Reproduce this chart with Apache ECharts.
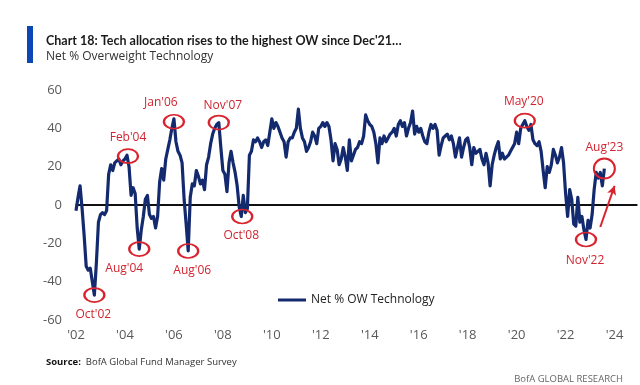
<!DOCTYPE html>
<html><head><meta charset="utf-8">
<script src="https://cdn.jsdelivr.net/npm/echarts@6/dist/echarts.min.js"></script>
<style>html,body{margin:0;padding:0;background:#fff}#c{width:640px;height:385px}</style>
</head><body><div id="c"></div>
<script>
// Monthly categories Jan 2002 - Dec 2024
const startYear = 2002, endYear = 2024;
const categories = [];
for (let y = startYear; y <= endYear; y++) for (let m = 1; m <= 12; m++) categories.push(y + '-' + String(m).padStart(2, '0'));

// Net % overweight technology, Jan 2002 - Aug 2023
const netOW = [
 -3, 4, 10, -2, -16, -32, -34, -33, -40, -47, -30, -9,
 -5, -4, -5, -3, 16, 21, 18, 22, 23, 24, 21, 23,
 24, 26, 20, 5, 9, 6, -12, -23, -13, -6, 3, 5,
 -5, -7, -6, -12, -6, 12, 19, 13, 24, 29, 34, 40,
 45, 33, 28, 26, 22, 3, -10, -24, 4, 11, 10, 18,
 15, 11, 13, 8, 21, 25, 32, 37, 40, 42, 43, 30,
 18, 16, 7, 22, 28, 22, 17, 10, -1, -6, 5, -4,
 -2, 26, 28, 34, 33, 35, 33, 30, 33, 34, 31, 38,
 45, 40, 43, 41, 38, 35, 33, 25, 33, 35, 35, 38,
 40, 50, 40, 35, 33, 28, 30, 33, 38, 36, 32, 40,
 41, 43, 41, 43, 41, 34, 23, 32, 29, 21, 24, 30,
 25, 18, 34, 23, 26, 29, 30, 33, 32, 36, 47, 44,
 42, 41, 38, 32, 22, 35, 32, 36, 33, 35, 37, 38,
 40, 36, 42, 44, 41, 43, 36, 40, 43, 49, 37, 41,
 38, 40, 36, 33, 32, 38, 42, 40, 42, 39, 26, 31,
 35, 36, 37, 34, 36, 32, 25, 30, 35, 25, 30, 34,
 35, 30, 21, 30, 27, 28, 29, 24, 21, 27, 22, 10,
 21, 26, 30, 33, 24, 27, 24, 25, 26, 28, 30, 32,
 38, 32, 40, 42, 44, 41, 39, 42, 34, 32, 31, 33,
 28, 18, 9, 20, 17, 21, 29, 26, 22, 25, 30, 22,
 6, -6, 8, 3, -10, -11, 4, -9, -6, -13, -18, -8,
 -12, -5, 8, 17, 14, 17, 10, 19
];

const yTicks = [-60, -40, -20, 0, 20, 40, 60];

// Annotated turning points: [label, category index]
const notes = [
  ["Oct'02", 9], ["Feb'04", 25], ["Aug'04", 31], ["Jan'06", 48], ["Aug'06", 55],
  ["Nov'07", 70], ["Oct'08", 81], ["May'20", 220], ["Nov'22", 250], ["Aug'23", 259]
];
// Arrow annotation: from / to [category index, value]
const arrowFrom = [257, -11.5], arrowTo = [264, 10];

const noteLabelOffset = {
  "Oct'02": [-1, 19], "Feb'04": [0, -19], "Aug'04": [-15, 19], "Jan'06": [-13, -19],
  "Aug'06": [4, 20], "Nov'07": [4, -17], "Oct'08": [-1, 19], "May'20": [-1, -19],
  "Nov'22": [-1, 21], "Aug'23": [0, -21]
};
const noteSize = { "Aug'23": [21, 20] };
const noteShift = { "Jan'06": [0, 3], "Feb'04": [1, 1], "Oct'08": [1, 0] };

const RED = '#d9232e';

const chart = echarts.init(document.getElementById('c'), null, { renderer: 'canvas' });
chart.setOption({
  animation: false,
  textStyle: { fontFamily: 'Open Sans, Noto Sans, sans-serif' },
  title: [
    { text: "Chart 18: Tech allocation rises to the highest OW since Dec'21…", left: 41, top: 29,
      textStyle: { fontSize: 12.5, fontWeight: 'bold', color: '#1a1a1a', fontFamily: 'Lato, sans-serif' } },
    { text: 'Net % Overweight Technology', left: 41, top: 46,
      textStyle: { fontSize: 12, fontWeight: 'normal', color: '#333', fontFamily: 'Open Sans, sans-serif' } },
    { text: '{b|Source:}  BofA Global Fund Manager Survey', left: 41, top: 352,
      textStyle: { fontSize: 9.5, fontWeight: 'normal', color: '#333',
        rich: { b: { fontWeight: 'bold', fontSize: 9.5, color: '#111' } } } },
    { text: 'BofA GLOBAL RESEARCH', right: 12, top: 369,
      textStyle: { fontSize: 9.5, fontWeight: 'normal', color: '#666' } }
  ],
  graphic: [
    { type: 'rect', left: 27, top: 26, shape: { width: 6, height: 37 }, style: { fill: '#0d47b5' } }
  ],
  legend: {
    data: ['Net % OW Technology'], left: 273, top: 289, itemWidth: 28, itemHeight: 3, icon: 'rect',
    textStyle: { fontSize: 12, color: '#222' }, itemGap: 5
  },
  grid: { left: 76, right: 3, top: 90, bottom: 65 },
  xAxis: [
    { // axis line crossing at zero
      type: 'category', data: categories, boundaryGap: false, position: 'bottom',
      axisLine: { show: true, onZero: true, lineStyle: { color: '#000', width: 1.5 } },
      axisTick: { show: false }, splitLine: { show: false }, axisLabel: { show: false }
    },
    { // year labels at the bottom
      type: 'category', data: categories, boundaryGap: false, position: 'bottom',
      axisLine: { show: false, onZero: false }, axisTick: { show: false }, splitLine: { show: false },
      axisLabel: {
        interval: (i) => i % 24 === 0, margin: 9, color: '#595959', fontSize: 13,
        formatter: (v) => "'" + v.slice(2, 4)
      }
    }
  ],
  yAxis: {
    type: 'value', min: -60, max: 60, interval: 20,
    axisLine: { show: false }, axisTick: { show: false }, splitLine: { show: false },
    axisLabel: { color: '#595959', fontSize: 13, margin: 14 }
  },
  series: [
    {
      name: 'Net % OW Technology', type: 'line', data: netOW, symbol: 'none', z: 3, xAxisIndex: 0,
      lineStyle: { color: '#142a6e', width: 3.2, join: 'round' }, itemStyle: { color: '#142a6e' },
      markLine: {
        silent: true, symbol: ['none', 'none'], label: { show: false }, z: 1,
        lineStyle: { color: '#000', width: 1.5, type: 'solid' },
        data: [{ yAxis: 0 }]
      },
      markPoint: {
        silent: true,
        data: notes.map(([lab, i]) => ({
          coord: [i, netOW[i]], name: lab,
          symbol: 'circle', symbolSize: noteSize[lab] || [20, 14], symbolOffset: noteShift[lab] || [0, 0],
          itemStyle: { color: 'rgba(0,0,0,0)', borderColor: RED, borderWidth: 2 },
          label: { show: true, formatter: lab, position: 'inside', offset: noteLabelOffset[lab],
            color: '#d02530', fontSize: 12 }
        }))
      }
    },
    {
      name: 'arrow', type: 'line', data: [], z: 4, silent: true, xAxisIndex: 0,
      markLine: {
        silent: true, symbol: ['none', 'arrow'], symbolSize: [7, 9], label: { show: false },
        lineStyle: { color: RED, width: 2, type: 'solid' }, itemStyle: { color: RED },
        data: [[ { coord: arrowFrom }, { coord: arrowTo } ]]
      }
    }
  ]
});
</script></body></html>
